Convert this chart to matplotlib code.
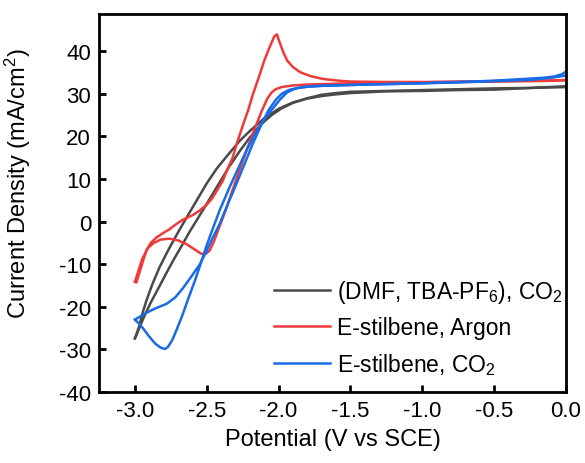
import matplotlib
matplotlib.use("Agg")
import matplotlib.pyplot as plt

plt.rcParams['font.family'] = ['Liberation Sans', 'DejaVu Sans']
plt.rcParams['mathtext.fontset'] = 'custom'
plt.rcParams['mathtext.rm'] = 'Liberation Sans'
plt.rcParams['mathtext.it'] = 'Liberation Sans'

# Blank electrolyte (DMF, TBA-PF6) under CO2 - two scan branches
gray_x1 = [0.0, -0.25, -0.5, -0.75, -1.0, -1.25, -1.5, -1.6, -1.7, -1.8, -1.9, -2.0, -2.1, -2.2, -2.27,
           -2.35, -2.43, -2.5, -2.57, -2.64, -2.7, -2.77, -2.83, -2.88, -2.92, -2.95, -2.97, -2.99, -3.0]
gray_y1 = [31.8, 31.4, 31.0, 30.9, 30.7, 30.6, 30.2, 29.9, 29.5, 28.9, 28.0, 26.5, 24.3, 21.3, 19.0,
           15.8, 12.5, 9.0, 5.0, 1.0, -2.5, -6.8, -10.8, -14.8, -18.5, -21.8, -24.5, -26.5, -27.4]
gray_x2 = [-3.0, -2.98, -2.94, -2.89, -2.83, -2.78, -2.73, -2.67, -2.62, -2.56, -2.5, -2.42, -2.35,
           -2.27, -2.2, -2.12, -2.05, -1.98, -1.9, -1.8, -1.7, -1.6, -1.5, -1.25, -1.0, -0.75, -0.5, -0.25, 0.0]
gray_y2 = [-27.4, -25.8, -22.6, -19.0, -15.2, -12.0, -8.9, -5.4, -2.4, 0.9, 4.2, 8.7, 12.6,
           16.6, 19.8, 22.9, 25.0, 26.6, 27.9, 29.0, 29.8, 30.2, 30.5, 30.7, 30.9, 31.1, 31.3, 31.4, 31.6]

# E-stilbene under Argon - two scan branches
red_x1 = [0.0, -0.25, -0.5, -0.75, -1.0, -1.25, -1.5, -1.58, -1.69, -1.78, -1.85, -1.9, -1.94, -1.97,
          -2.0, -2.012, -2.03, -2.06, -2.1, -2.14, -2.18, -2.21, -2.25, -2.29, -2.32, -2.36, -2.39,
          -2.43, -2.46, -2.5, -2.55, -2.6, -2.67, -2.73, -2.76, -2.8, -2.85, -2.89, -2.92, -2.94,
          -2.96, -2.98, -2.99, -3.0]
red_y1 = [33.2, 33.1, 33.0, 32.9, 32.8, 32.8, 32.9, 33.1, 33.5, 34.2, 35.1, 36.3, 37.8, 40.0,
          42.8, 44.0, 43.5, 41.2, 37.8, 33.7, 29.8, 26.4, 22.5, 18.5, 15.0, 12.0, 9.5,
          7.3, 5.6, 4.0, 2.6, 1.5, 0.4, -1.0, -1.8, -2.6, -3.7, -5.0, -6.8, -8.8,
          -11.0, -13.2, -14.3, -14.1]
red_x2 = [-3.0, -2.98, -2.95, -2.91, -2.87, -2.82, -2.76, -2.7, -2.64, -2.59, -2.54, -2.51, -2.48,
          -2.45, -2.41, -2.36, -2.32, -2.27, -2.22, -2.17, -2.12, -2.08, -2.05, -2.02, -1.98, -1.9,
          -1.8, -1.7, -1.5, -1.25, -1.0, -0.75, -0.5, -0.25, -0.08, 0.0]
red_y2 = [-14.1, -12.0, -8.8, -6.2, -5.0, -4.2, -4.0, -4.4, -5.3, -6.4, -7.5, -7.6, -6.8,
          -4.6, -1.0, 3.5, 7.5, 12.3, 17.0, 21.5, 25.8, 28.8, 30.3, 31.1, 31.6, 32.0,
          32.2, 32.3, 32.5, 32.6, 32.7, 32.8, 32.9, 33.0, 33.1, 33.3]

# E-stilbene under CO2 - two scan branches
blue_x1 = [0.0, -0.03, -0.08, -0.15, -0.25, -0.5, -0.75, -1.0, -1.25, -1.5, -1.7, -1.8, -1.88,
           -1.94, -1.99, -2.04, -2.1, -2.16, -2.22, -2.28, -2.34, -2.41, -2.46, -2.5, -2.54, -2.58,
           -2.63, -2.67, -2.71, -2.74, -2.77, -2.79, -2.82, -2.86, -2.9, -2.94, -2.97, -3.0]
blue_y1 = [35.2, 34.6, 34.1, 33.8, 33.6, 33.1, 32.8, 32.5, 32.3, 32.1, 31.9, 31.7, 31.3,
           30.4, 28.7, 26.6, 24.2, 20.8, 17.0, 12.6, 8.2, 2.7, -1.8, -5.5, -9.6, -13.6,
           -18.2, -22.0, -25.4, -27.8, -29.4, -29.9, -29.6, -28.6, -27.0, -25.2, -24.0, -23.0]
blue_x2 = [-3.0, -2.97, -2.92, -2.86, -2.78, -2.72, -2.67, -2.61, -2.55, -2.5, -2.46, -2.41, -2.36,
           -2.3, -2.24, -2.18, -2.12, -2.07, -2.02, -1.98, -1.93, -1.87, -1.8, -1.7, -1.5,
           -1.25, -1.0, -0.75, -0.5, -0.25, -0.1, 0.0]
blue_y2 = [-23.0, -22.4, -21.4, -20.4, -19.3, -17.8, -15.8, -13.0, -10.1, -6.8, -3.9, -0.5, 3.6,
           8.4, 13.3, 18.3, 22.8, 26.2, 28.6, 30.0, 30.9, 31.4, 31.7, 31.9, 32.1,
           32.3, 32.5, 32.7, 33.0, 33.3, 33.8, 34.3]

x_ticks = [-3.0, -2.5, -2.0, -1.5, -1.0, -0.5, 0.0]
y_ticks = [-40, -30, -20, -10, 0, 10, 20, 30, 40]

labels = [r'(DMF, TBA-PF$_6$), CO$_2$', 'E-stilbene, Argon', r'E-stilbene, CO$_2$']
colors = ['#4a4a4a', '#f03a3a', '#1a6be6']

fig = plt.figure(figsize=(5.85, 4.64), dpi=100)
ax = fig.add_axes([0.170, 0.153, 0.7975, 0.815])

lw = 1.8
ax.plot(gray_x1, gray_y1, color=colors[0], lw=lw, label=labels[0])
ax.plot(gray_x2, gray_y2, color=colors[0], lw=lw)
ax.plot(red_x1, red_y1, color=colors[1], lw=lw, label=labels[1])
ax.plot(red_x2, red_y2, color=colors[1], lw=lw)
ax.plot(blue_x1, blue_y1, color=colors[2], lw=lw, label=labels[2])
ax.plot(blue_x2, blue_y2, color=colors[2], lw=lw)

ax.set_xlim(-3.247, 0.0)
ax.set_ylim(-40, 48.8)
ax.set_xticks(x_ticks)
ax.set_xticklabels([f'{v:.1f}' for v in x_ticks])
ax.set_yticks(y_ticks)
ax.set_yticklabels([f'{v}' for v in y_ticks])

for s in ax.spines.values():
    s.set_linewidth(2.0)
ax.tick_params(direction='in', length=5, width=2, labelsize=16, pad=6)

ax.set_xlabel('Potential (V vs SCE)', fontsize=17, labelpad=5)
ax.set_ylabel('Current Density (mA/cm$^2$)', fontsize=17)
ax.yaxis.set_label_coords(-0.143, 0.554)

leg = ax.legend(loc='lower right', frameon=False, fontsize=16.5, handlelength=2.45,
                handletextpad=0.3, labelspacing=0.5, borderaxespad=0.0,
                bbox_to_anchor=(1.012, 0.016))

fig.savefig('out.png', dpi=100)
